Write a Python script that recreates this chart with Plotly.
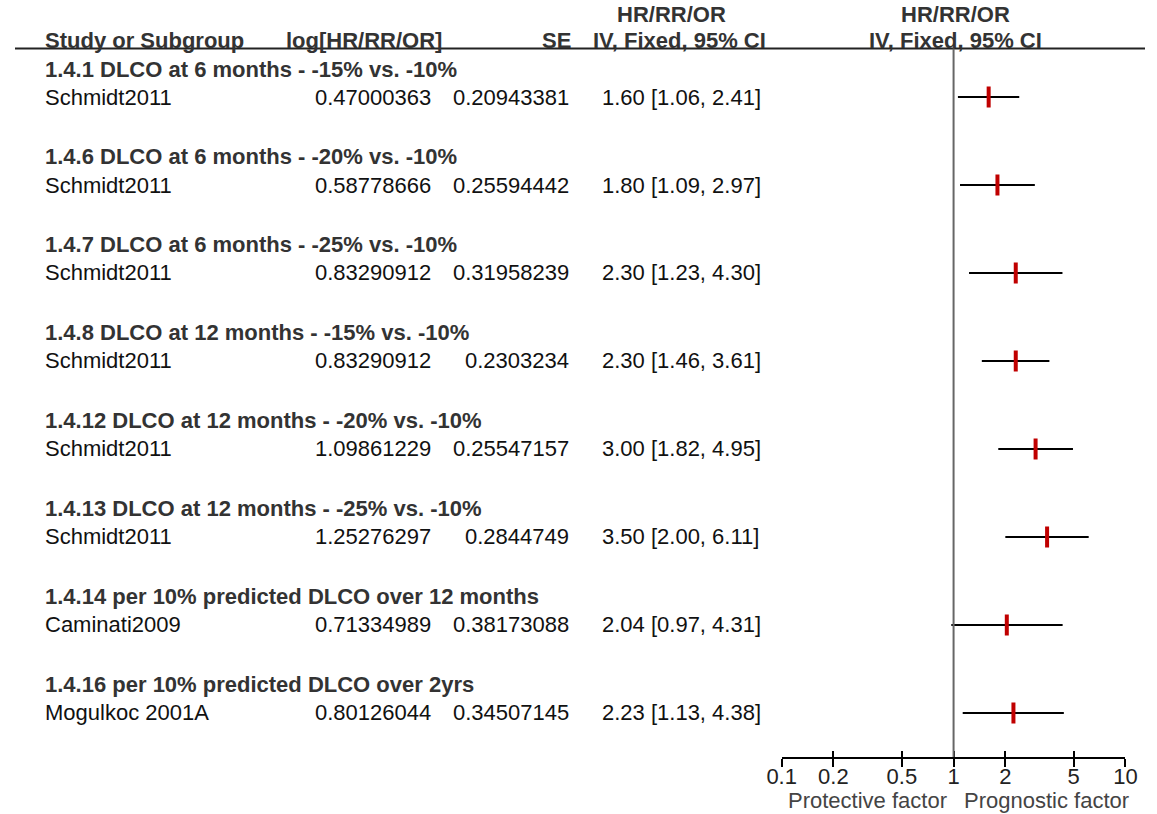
import plotly.graph_objects as go

# ---- data ----
groups = [
    "1.4.1 DLCO at 6 months - -15% vs. -10%",
    "1.4.6 DLCO at 6 months - -20% vs. -10%",
    "1.4.7 DLCO at 6 months - -25% vs. -10%",
    "1.4.8 DLCO at 12 months - -15% vs. -10%",
    "1.4.12 DLCO at 12 months - -20% vs. -10%",
    "1.4.13 DLCO at 12 months - -25% vs. -10%",
    "1.4.14 per 10% predicted DLCO over 12 months",
    "1.4.16 per 10% predicted DLCO over 2yrs",
]
studies = ["Schmidt2011", "Schmidt2011", "Schmidt2011", "Schmidt2011",
           "Schmidt2011", "Schmidt2011", "Caminati2009", "Mogulkoc 2001A"]
log_est = ["0.47000363", "0.58778666", "0.83290912", "0.83290912",
           "1.09861229", "1.25276297", "0.71334989", "0.80126044"]
se_vals = ["0.20943381", "0.25594442", "0.31958239", "0.2303234",
           "0.25547157", "0.2844749", "0.38173088", "0.34507145"]
hr = [1.60, 1.80, 2.30, 2.30, 3.00, 3.50, 2.04, 2.23]
lo = [1.06, 1.09, 1.23, 1.46, 1.82, 2.00, 0.97, 1.13]
hi = [2.41, 2.97, 4.30, 3.61, 4.95, 6.11, 4.31, 4.38]
tick_vals = [0.1, 0.2, 0.5, 1, 2, 5, 10]
tick_text = ["0.1", "0.2", "0.5", "1", "2", "5", "10"]

W, H = 1157, 814
FONT = "Liberation Sans, Arial, sans-serif"
FS = 22
BOLD_C = "#333333"
TXT_C = "#111111"

head_rows = [3 * i for i in range(len(groups))]
study_rows = [3 * i + 0.955 for i in range(len(groups))]

def px(x):
    return x / W

fig = go.Figure()

# CI whiskers
cx, cy = [], []
for l, h, r in zip(lo, hi, study_rows):
    cx += [l, h, None]
    cy += [r, r, None]
fig.add_trace(go.Scatter(x=cx, y=cy, mode="lines",
                         line=dict(color="black", width=2),
                         hoverinfo="skip", showlegend=False))
# point estimates
fig.add_trace(go.Scatter(x=hr, y=study_rows, mode="markers",
                         marker=dict(symbol="line-ns", size=15,
                                     line=dict(width=4, color="#c00000")),
                         showlegend=False))
# invisible trace for second (inside-tick) axis
fig.add_trace(go.Scatter(x=[1], y=[study_rows[0]], xaxis="x2", mode="markers",
                         marker=dict(opacity=0), showlegend=False,
                         hoverinfo="skip"))

ann = []
def t(text, x, y, anchor="left", bold=False, color=None, yref="y", size=FS):
    ann.append(dict(text=f"<b>{text}</b>" if bold else text, x=px(x), y=y,
                    xref="paper", yref=yref, xanchor=anchor, yanchor="middle",
                    showarrow=False, borderpad=0,
                    font=dict(family=FONT, size=size,
                              color=color or (BOLD_C if bold else TXT_C))))

# header
t("Study or Subgroup", 30, -0.97, bold=True)
t("log[HR/RR/OR]", 276, -0.97, bold=True)
t("SE", 570, -0.97, anchor="right", bold=True)
t("HR/RR/OR", 672, -1.85, anchor="center", bold=True)
t("IV, Fixed, 95% CI", 680, -0.97, anchor="center", bold=True)
t("HR/RR/OR", 963, -1.85, anchor="center", bold=True)
t("IV, Fixed, 95% CI", 963, -0.97, anchor="center", bold=True)

for g, r in zip(groups, head_rows):
    t(g, 30, r, bold=True)
for i, r in enumerate(study_rows):
    t(studies[i], 30, r)
    t(log_est[i], 427, r, anchor="right")
    t(se_vals[i], 568, r, anchor="right")
    t(f"{hr[i]:.2f} [{lo[i]:.2f}, {hi[i]:.2f}]", 600, r)

t("Protective factor", 873, 1 - 800 / H, anchor="center", yref="paper", color="#444444")
t("Prognostic factor", 1056, 1 - 800 / H, anchor="center", yref="paper", color="#444444")

y_top = -69 / 29.33
y_bot = (757 - 69) / 29.33

shapes = [
    dict(type="line", xref="paper", yref="y", x0=0, x1=1, y0=-0.7, y1=-0.7,
         line=dict(color="#222222", width=2)),
    dict(type="line", xref="x", yref="y", x0=1, x1=1, y0=-0.7, y1=y_bot,
         line=dict(color="#666666", width=2)),
]

xdom = [785 / W, 1137 / W]
fig.update_layout(
    width=W, height=H,
    margin=dict(l=0, r=0, t=0, b=0),
    paper_bgcolor="white", plot_bgcolor="white",
    font=dict(family=FONT, size=FS, color=TXT_C),
    xaxis=dict(type="log", range=[-1, 1], domain=xdom,
               tickvals=tick_vals, ticktext=tick_text,
               ticks="outside", ticklen=8, tickwidth=2, tickcolor="black",
               showline=True, linecolor="black", linewidth=2,
               showgrid=False, zeroline=False, ticklabelstandoff=-9,
               tickfont=dict(family=FONT, size=FS, color="#222222")),
    xaxis2=dict(type="log", range=[-1, 1], domain=xdom, overlaying="x",
                anchor="y", side="bottom",
                tickvals=tick_vals, ticks="inside", ticklen=6, tickwidth=2,
                tickcolor="black", showticklabels=False, showline=False,
                showgrid=False, zeroline=False),
    yaxis=dict(range=[y_bot, y_top], domain=[1 - 757 / H, 1],
               visible=False, showgrid=False, zeroline=False),
    annotations=ann,
    shapes=shapes,
    showlegend=False,
)

fig.write_html("out.html", config={"displayModeBar": False},
               post_script="document.body.style.margin='0';document.body.style.overflow='hidden';")
